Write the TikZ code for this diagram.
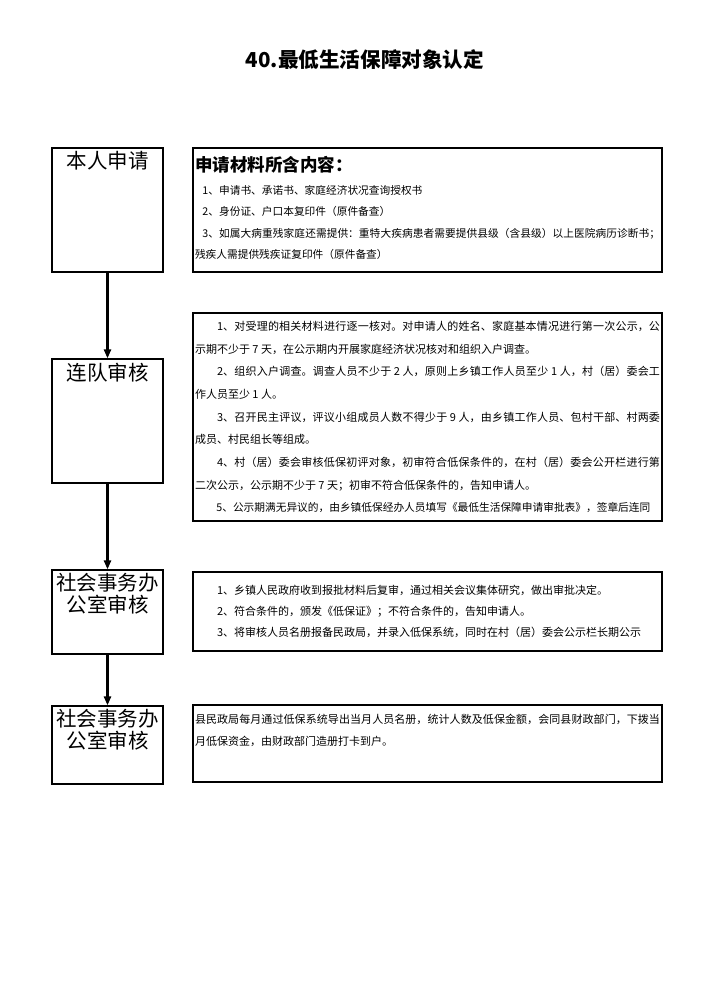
\documentclass[tikz,border=0pt]{standalone}
\usepackage{fontspec}
\setmainfont{Noto Sans CJK SC}
\usetikzlibrary{arrows.meta}
\XeTeXlinebreaklocale "zh"
\XeTeXlinebreakskip=0pt plus 1.5pt minus 0.15pt

\tikzset{
  stufe/.style={draw, line width=1.2pt, minimum width=111pt, inner sep=0pt},
  stufetext/.style={font=\fontsize{20.5}{22}\selectfont, align=center, inner sep=0pt},
  inhalt/.style={draw, line width=1.2pt, text width=465pt, inner xsep=2pt, inner ysep=2pt,
    align=justify, font=\fontsize{11}{22.7}\selectfont},
  pfeil/.style={line width=2.5pt, -{Triangle[length=9pt,width=7pt]}}
}

\begin{document}
\begin{tikzpicture}[x=1pt,y=-1pt]
 \useasboundingbox (0,0) rectangle (722,982);

 % Titel
 \node[font=\bfseries\fontsize{20.6}{24}\selectfont] (titel) at (365,60) {40.最低生活保障对象认定};

 % Stufen links
 \node[stufe, minimum height=124pt] (shenqing) at (107.5,210) {};
 \node[stufe, minimum height=124pt] (liandui) at (107.5,421) {};
 \node[stufe, minimum height=84pt] (shiwuban) at (107.5,612) {};
 \node[stufe, minimum height=78pt] (bofa) at (107.5,745) {};

 \node[stufetext] (shenqingtext) at (107.5,161) {本人申请};
 \node[stufetext] (lianduitext) at (107.5,373) {连队审核};
 \node[stufetext] (shiwubantext) at (107.5,594) {社会事务办\\公室审核};
 \node[stufetext] (bofatext) at (107.5,730) {社会事务办\\公室审核};

 % Pfeile
 \draw[pfeil] (shenqing) -- (liandui);
 \draw[pfeil] (liandui) -- (shiwuban);
 \draw[pfeil] (shiwuban) -- (bofa);

 % Inhalte rechts
 \node[inhalt, minimum height=124pt, text depth=92pt, font=\fontsize{10.7}{21.5}\selectfont] (cailiao) at (427.5,210) {%
  {\bfseries\fontsize{17.5}{22}\selectfont 申请材料所含内容：\par}\vspace{1pt}
  \hspace*{0.7em}1、申请书、承诺书、家庭经济状况查询授权书\par
  \hspace*{0.7em}2、身份证、户口本复印件（原件备查）\par
  \hspace*{0.7em}3、如属大病重残家庭还需提供：重特大疾病患者需要提供县级（含县级）以上医院病历诊断书；\linebreak
  残疾人需提供残疾证复印件（原件备查）};

 \node[inhalt, minimum height=208pt] (hedui) at (427.5,417) {%
  \hspace*{2em}1、对受理的相关材料进行逐一核对。对申请人的姓名、家庭基本情况进行第一次公示，公\linebreak
  示期不少于 7 天，在公示期内开展家庭经济状况核对和组织入户调查。\par
  \hspace*{2em}2、组织入户调查。调查人员不少于 2 人，原则上乡镇工作人员至少 1 人，村（居）委会工\linebreak
  作人员至少 1 人。\par
  \hspace*{2em}3、召开民主评议，评议小组成员人数不得少于 9 人，由乡镇工作人员、包村干部、村两委\linebreak
  成员、村民组长等组成。\par
  \hspace*{2em}4、村（居）委会审核低保初评对象，初审符合低保条件的，在村（居）委会公开栏进行第\linebreak
  二次公示，公示期不少于 7 天；初审不符合低保条件的，告知申请人。\par
  \parfillskip=0pt\fontsize{10.7}{22.7}\selectfont
  \hspace*{2em}5、公示期满无异议的，由乡镇低保经办人员填写《最低生活保障申请审批表》，签章后连同};

 \node[inhalt, minimum height=79pt, font=\fontsize{11}{21}\selectfont] (shenpi) at (427.5,611.5) {%
  \hspace*{2em}1、乡镇人民政府收到报批材料后复审，通过相关会议集体研究，做出审批决定。\par
  \hspace*{2em}2、符合条件的，颁发《低保证》；不符合条件的，告知申请人。\par
  \hspace*{2em}3、将审核人员名册报备民政局，并录入低保系统，同时在村（居）委会公示栏长期公示};

 \node[inhalt, minimum height=77pt, text depth=49pt, font=\fontsize{11}{22}\selectfont] (zijin) at (427.5,743.5) {%
  县民政局每月通过低保系统导出当月人员名册，统计人数及低保金额，会同县财政部门，下拨当\linebreak
  月低保资金，由财政部门造册打卡到户。};
\end{tikzpicture}
\end{document}
